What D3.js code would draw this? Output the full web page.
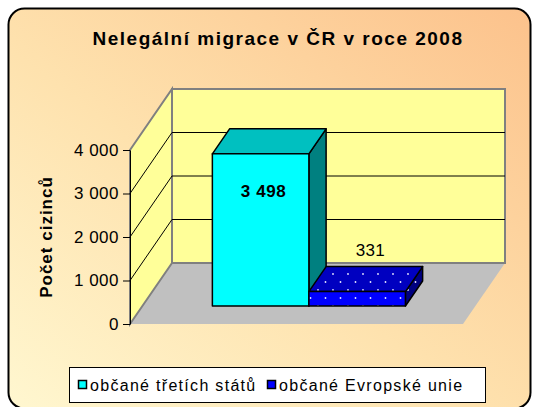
<!DOCTYPE html>
<html>
<head>
<meta charset="utf-8">
<script src="https://cdn.jsdelivr.net/npm/d3@7"></script>
<style>
  body { margin: 0; background: #fff; }
  svg { display: block; font-family: "Liberation Sans", Arial, sans-serif; }
</style>
</head>
<body>
<div id="chart"></div>
<script>
// Data
const title = 'Nelegální migrace v ČR v roce 2008';
const yTitle = 'Počet cizinců';
const series = ['občané třetích států', 'občané Evropské unie'];
const values = [3498, 331];
const yTicks = [0, 1000, 2000, 3000, 4000];

// Dimensions
const width = 533;
const height = 407;
const plot = { left: 130, right: 463, bottom: 324, top: 150 };
const depth = { dx: 42, dy: -61 };      // floor depth offset
const barDepth = { front: 0.295, back: 0.705 };

const fmt = d => d3.format(',')(d).replace(/,/g, ' ');

const svg = d3.select('#chart')
  .append('svg')
  .attr('width', width)
  .attr('height', height);

const defs = svg.append('defs');
const bg = defs.append('linearGradient')
  .attr('id', 'bg')
  .attr('x1', 0).attr('y1', 1).attr('x2', 1).attr('y2', 0);
bg.append('stop').attr('offset', '0%').attr('stop-color', '#FFF7D0');
bg.append('stop').attr('offset', '45%').attr('stop-color', '#FEE2AE');
bg.append('stop').attr('offset', '100%').attr('stop-color', '#FCC28C');

// dotted pattern for the EU bar
function dots(id, fill) {
  const p = defs.append('pattern')
    .attr('id', id)
    .attr('patternUnits', 'userSpaceOnUse')
    .attr('width', 15).attr('height', 16)
    .attr('x', 3).attr('y', 2);
  p.append('rect').attr('width', 15).attr('height', 16).attr('fill', fill);
  [[0, 0], [15, 0], [0, 16], [15, 16], [7.5, 8]].forEach(([cx, cy]) => {
    p.append('circle').attr('cx', cx).attr('cy', cy).attr('r', 0.9).attr('fill', '#e8e8ff');
  });
}
dots('eu-front', '#0000FF');
dots('eu-top', '#0000C0');
dots('eu-side', '#000080');

const colors = [
  { front: '#00FFFF', top: '#00C0C0', side: '#008080', legend: '#00FFFF' },
  { front: 'url(#eu-front)', top: 'url(#eu-top)', side: 'url(#eu-side)', legend: '#0000FF' }
];

// Background frame
svg.append('rect')
  .attr('x', 8.5).attr('y', 8.5)
  .attr('width', 522).attr('height', 400)
  .attr('rx', 16)
  .attr('fill', 'url(#bg)')
  .attr('stroke', '#000')
  .attr('stroke-width', 2);

svg.append('text')
  .attr('x', 278)
  .attr('y', 45)
  .attr('text-anchor', 'middle')
  .attr('font-size', '19px')
  .attr('font-weight', 'bold')
  .attr('letter-spacing', '1.5px')
  .text(title);

// Scales
const yScale = d3.scaleLinear()
  .domain([0, 4000])
  .range([plot.bottom, plot.top]);

const xScale = d3.scaleBand()
  .domain(series)
  .range([plot.left, plot.right])
  .paddingInner(0)
  .paddingOuter(0.725);

const pt = (x, y, f) => [x + f * depth.dx, y + f * depth.dy];
const poly = pts => pts.map(p => p.join(',')).join(' ');

const y0 = yScale(0), yTop = yScale(4000);
const L = plot.left, R = plot.right;

// Floor
svg.append('polygon')
  .attr('points', poly([pt(L, y0, 0), pt(R, y0, 0), pt(R, y0, 1), pt(L, y0, 1)]))
  .attr('fill', '#C0C0C0');

// Back wall
svg.append('polygon')
  .attr('points', poly([pt(L, y0, 1), pt(R, y0, 1), pt(R, yTop, 1), pt(L, yTop, 1)]))
  .attr('fill', '#FFFF99')
  .attr('stroke', '#808080')
  .attr('stroke-width', 2);

// Side wall
svg.append('polygon')
  .attr('points', poly([pt(L, y0, 0), pt(L, y0, 1), pt(L, yTop, 1), pt(L, yTop, 0)]))
  .attr('fill', '#FFFF99')
  .attr('stroke', '#808080')
  .attr('stroke-width', 2);

// Gridlines
const grid = yTicks.filter(d => d > 0 && d < 4000);
svg.append('g')
  .selectAll('path')
  .data(grid)
  .join('path')
  .attr('d', d => {
    const a = pt(L, yScale(d), 0), b = pt(L, yScale(d), 1), c = pt(R, yScale(d), 1);
    return `M${a}L${b}L${c}`;
  })
  .attr('fill', 'none')
  .attr('stroke', '#000')
  .attr('stroke-width', 1);

// Bars
const bars = svg.append('g')
  .selectAll('g')
  .data(series.map((s, i) => ({ s, v: values[i], i })))
  .join('g');

const f0 = barDepth.front, f1 = barDepth.back;
bars.each(function (d) {
  const g = d3.select(this);
  const x1 = xScale(d.s), x2 = x1 + xScale.bandwidth();
  const yt = yScale(d.v);
  const c = colors[d.i];
  g.append('polygon')
    .attr('points', poly([pt(x2, yt, f0), pt(x2, yt, f1), pt(x2, y0, f1), pt(x2, y0, f0)]))
    .attr('fill', c.side);
  g.append('polygon')
    .attr('points', poly([pt(x1, yt, f0), pt(x2, yt, f0), pt(x2, yt, f1), pt(x1, yt, f1)]))
    .attr('fill', c.top);
  g.append('polygon')
    .attr('points', poly([pt(x1, yt, f0), pt(x2, yt, f0), pt(x2, y0, f0), pt(x1, y0, f0)]))
    .attr('fill', c.front);
  g.selectAll('polygon')
    .attr('stroke', '#000')
    .attr('stroke-width', 1.5)
    .attr('stroke-linejoin', 'round');
});

// Data labels
const lbl0 = pt(xScale(series[0]) + xScale.bandwidth() / 2, yScale(values[0]), f0);
svg.append('text')
  .attr('x', lbl0[0] + 3)
  .attr('y', lbl0[1] + 43)
  .attr('text-anchor', 'middle')
  .attr('font-size', '17px')
  .attr('font-weight', 'bold')
  .attr('letter-spacing', '0.6px')
  .text(fmt(values[0]));

const lbl1 = pt(xScale(series[1]) + xScale.bandwidth() / 2, yScale(values[1]), f1);
svg.append('text')
  .attr('x', lbl1[0] - 4)
  .attr('y', lbl1[1] - 11)
  .attr('text-anchor', 'middle')
  .attr('font-size', '17px')
  .attr('letter-spacing', '0.3px')
  .text(fmt(values[1]));

// Axis
const yAxis = d3.axisLeft(yScale)
  .tickValues(yTicks)
  .tickSize(7)
  .tickSizeOuter(0)
  .tickPadding(4)
  .tickFormat(fmt);

const ax = svg.append('g')
  .attr('transform', `translate(${L}, 0)`)
  .call(yAxis);
ax.select('.domain').attr('stroke', '#000');
ax.selectAll('.tick line').attr('stroke', '#000');
ax.selectAll('.tick text')
  .attr('font-size', '17px')
  .attr('font-family', '"Liberation Sans", Arial, sans-serif')
  .attr('letter-spacing', '0.5px')
  .attr('fill', '#000');

svg.append('text')
  .attr('transform', `translate(52, ${(plot.top + plot.bottom) / 2}) rotate(-90)`)
  .attr('text-anchor', 'middle')
  .attr('font-size', '17px')
  .attr('font-weight', 'bold')
  .attr('letter-spacing', '1px')
  .text(yTitle);

// Legend
const legend = svg.append('g');
legend.append('rect')
  .attr('x', 69.5).attr('y', 367.5)
  .attr('width', 416).attr('height', 35)
  .attr('fill', '#fff')
  .attr('stroke', '#000');

const legendX = [78, 267];
const items = legend.selectAll('g.item')
  .data(series)
  .join('g')
  .attr('class', 'item')
  .attr('transform', (d, i) => `translate(${legendX[i]}, 385)`);
items.append('rect')
  .attr('x', 0.5).attr('y', -4.5)
  .attr('width', 8).attr('height', 8)
  .attr('fill', (d, i) => colors[i].legend)
  .attr('stroke', '#000')
  .attr('stroke-width', 1.5);
items.append('text')
  .attr('x', 12)
  .attr('y', 6)
  .attr('font-size', '16px')
  .attr('letter-spacing', '1.3px')
  .text(d => d);
</script>
</body>
</html>
